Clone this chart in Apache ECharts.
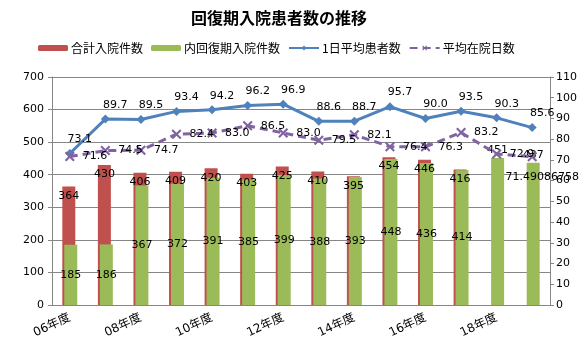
<!DOCTYPE html>
<html><head><meta charset="utf-8">
<script src="https://cdn.jsdelivr.net/npm/echarts@6/dist/echarts.min.js"></script>
<style>html,body{margin:0;padding:0;background:#fff}#c{width:584px;height:344px}</style>
</head><body><div id="c"></div>
<script>
var categories = ['06年度','07年度','08年度','09年度','10年度','11年度','12年度','13年度','14年度','15年度','16年度','17年度','18年度','19年度'];
var totalAdmissions = [364, 430, 406, 409, 420, 403, 425, 410, 395, 454, 446, 416, null, null];
var recoveryAdmissions = [185, 186, 367, 372, 391, 385, 399, 388, 393, 448, 436, 414, 451, 437];
var dailyPatients = [73.1, 89.7, 89.5, 93.4, 94.2, 96.2, 96.9, 88.6, 88.7, 95.7, 90.0, 93.5, 90.3, 85.6];
var avgStayDays = [71.6, 74.5, 74.7, 82.4, 83.0, 86.5, 83.0, 79.5, 82.1, 76.4, 76.3, 83.2, 72.9, 71.49086758];
var leftTicks = {min: 0, max: 700, interval: 100};
var rightTicks = {min: 0, max: 110, interval: 10};

var FONT = "'DejaVu Sans','Noto Sans CJK JP',sans-serif";
function fmtLine(p){var v=(typeof p.value==='object')?p.value.value:p.value; if(v==null) return ''; return Math.abs(v*10-Math.round(v*10))<1e-9 ? v.toFixed(1) : String(v);}
function fmtBar(p){var v=p.value; return v==null?'':String(v);}
var lbl = {color:'#000', fontFamily: FONT, fontSize: 11};
var xSym = 'path://M0,1.5 L1.5,0 L5,3.5 L8.5,0 L10,1.5 L6.5,5 L10,8.5 L8.5,10 L5,6.5 L1.5,10 L0,8.5 L3.5,5 Z';

var greenData = recoveryAdmissions.map(function(v,i){
  if (totalAdmissions[i] == null) return {value: v, label: {position: 'top', distance: 2}};
  return v;
});
var purpleData = avgStayDays.map(function(v,i){
  if (i === avgStayDays.length-1) return {value: v, label: {position: 'bottom', offset: [10, 2]}};
  return v;
});

var chart = echarts.init(document.getElementById('c'));
chart.setOption({
  backgroundColor: '#fff',
  animation: false,
  title: {text: '回復期入院患者数の推移', left: 186, top: 5,
    textStyle: {fontFamily: "'Noto Sans CJK JP',sans-serif", fontSize: 16, fontWeight: 'bold', color: '#000'}},
  legend: {left: 33, top: 37, itemWidth: 30, itemHeight: 6, itemGap: 8,
    textStyle: {fontFamily: "'Noto Sans CJK JP',sans-serif", fontSize: 12, color: '#000', padding: [0,0,0,-2]},
    data: ['合計入院件数','内回復期入院件数','1日平均患者数','平均在院日数']},
  grid: {left: 52, right: 34, top: 77, bottom: 39},
  xAxis: {type: 'category', data: categories,
    axisLine: {lineStyle: {color: '#868686'}},
    axisTick: {show: false},
    axisLabel: {interval: 1, rotate: 25, color: '#000', fontFamily: FONT, fontSize: 12, margin: 12}},
  yAxis: [
    {type: 'value', min: leftTicks.min, max: leftTicks.max, interval: leftTicks.interval,
     axisLine: {show: true, lineStyle: {color: '#868686'}},
     axisTick: {show: true, length: 4, lineStyle: {color: '#868686'}},
     splitLine: {lineStyle: {color: '#868686'}},
     axisLabel: {color: '#000', fontFamily: FONT, fontSize: 11, margin: 8}},
    {type: 'value', min: rightTicks.min, max: rightTicks.max, interval: rightTicks.interval,
     axisLine: {show: true, lineStyle: {color: '#868686'}},
     axisTick: {show: true, length: 4, lineStyle: {color: '#868686'}},
     splitLine: {show: false},
     axisLabel: {color: '#000', fontFamily: FONT, fontSize: 11, margin: 6}}
  ],
  series: [
    {name: '合計入院件数', type: 'bar', data: totalAdmissions, barWidth: 13, barGap: '-85%',
     itemStyle: {color: '#C0504D'},
     label: Object.assign({show: true, position: 'insideTop', distance: 4, formatter: fmtBar}, lbl)},
    {name: '内回復期入院件数', type: 'bar', data: greenData, barWidth: 13,
     itemStyle: {color: '#9BBB59'},
     label: Object.assign({show: true, position: 'inside', formatter: fmtBar}, lbl)},
    {name: '1日平均患者数', type: 'line', yAxisIndex: 1, data: dailyPatients,
     symbol: 'diamond', symbolSize: 9, lineStyle: {color: '#4F81BD', width: 3},
     itemStyle: {color: '#4F81BD'},
     label: Object.assign({show: true, position: 'top', distance: 4, offset: [10, 0], formatter: fmtLine}, lbl)},
    {name: '平均在院日数', type: 'line', yAxisIndex: 1, data: purpleData,
     symbol: xSym, symbolSize: 10, lineStyle: {color: '#8064A2', width: 3, type: [8, 5]},
     itemStyle: {color: '#8064A2'},
     label: Object.assign({show: true, position: 'right', distance: 8, formatter: fmtLine}, lbl)}
  ]
});
</script></body></html>
